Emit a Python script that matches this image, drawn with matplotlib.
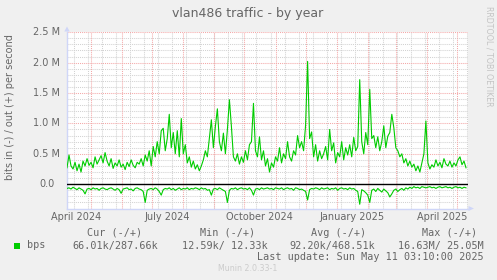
import matplotlib
matplotlib.use("Agg")
import matplotlib.pyplot as plt
import matplotlib.dates as mdates
import matplotlib.transforms as mtransforms
from matplotlib.patches import Polygon, Rectangle
import numpy as np
from datetime import datetime, timedelta

# ---------------- data (bits per second, in millions) ----------------
title = "vlan486 traffic - by year"
ylabel = "bits in (-) / out (+) per second"
series_name = "bps"

# "out" (+) values, one point every 2 days, starting at data_start
out_mbps = [
    0.27, 0.48, 0.30, 0.25, 0.36, 0.22, 0.33, 0.20, 0.38, 0.30,
    0.42, 0.31, 0.36, 0.27, 0.45, 0.33, 0.40, 0.47, 0.35, 0.52,
    0.38, 0.30, 0.42, 0.26, 0.35, 0.30, 0.40, 0.28, 0.33, 0.24,
    0.36, 0.29, 0.40, 0.31, 0.27, 0.36, 0.33, 0.42, 0.30, 0.48,
    0.38, 0.55, 0.30, 0.62, 0.45, 0.70, 0.50, 0.88, 0.92, 0.55,
    0.75, 1.15, 0.60, 0.85, 0.50, 0.88, 0.45, 1.08, 0.50, 0.65,
    0.35, 0.45, 0.28, 0.38, 0.25, 0.32, 0.22, 0.30, 0.40, 0.55,
    0.45, 0.75, 1.06, 0.60, 0.95, 1.24, 0.70, 0.55, 0.84, 0.50,
    0.90, 1.39, 0.95, 0.45, 0.38, 0.50, 0.33, 0.45, 0.36, 0.55,
    0.40, 0.65, 0.70, 1.33, 0.55, 0.45, 0.78, 0.40, 0.55, 0.30,
    0.42, 0.20, 0.35, 0.28, 0.45, 0.38, 0.60, 0.35, 0.50, 0.42,
    0.70, 0.45, 0.38, 0.55, 0.48, 0.80, 0.60, 0.70, 0.55, 0.97,
    2.02, 0.75, 0.86, 0.45, 0.65, 0.38, 0.55, 0.42, 0.50, 0.62,
    0.40, 0.90, 0.55, 0.68, 0.35, 0.52, 0.45, 0.70, 0.40, 0.60,
    0.48, 0.65, 0.45, 0.77, 0.55, 0.62, 1.72, 0.70, 0.50, 0.85,
    0.65, 1.56, 0.75, 0.80, 0.60, 0.78, 0.55, 0.70, 0.96, 0.60,
    0.79, 0.85, 1.15, 0.93, 0.60, 0.55, 0.45, 0.50, 0.35, 0.42,
    0.30, 0.38, 0.28, 0.33, 0.22, 0.30, 0.20, 0.35, 0.50, 1.04,
    0.35, 0.25, 0.32, 0.28, 0.40, 0.30, 0.36, 0.27, 0.42, 0.33,
    0.30, 0.38, 0.28, 0.35, 0.30, 0.40, 0.45, 0.32, 0.38, 0.27,
]
# "in" (-) magnitudes, same sampling
in_mbps = [
    0.07, 0.06, 0.08, 0.05, 0.07, 0.09, 0.06, 0.08, 0.10, 0.16,
    0.08, 0.07, 0.09, 0.06, 0.08, 0.07, 0.10, 0.07, 0.06, 0.08,
    0.09, 0.07, 0.06, 0.08, 0.10, 0.07, 0.09, 0.15, 0.08, 0.07,
    0.06, 0.09, 0.08, 0.11, 0.07, 0.06, 0.08, 0.09, 0.12, 0.30,
    0.10, 0.08, 0.07, 0.09, 0.06, 0.08, 0.12, 0.18, 0.09, 0.07,
    0.08, 0.06, 0.09, 0.07, 0.10, 0.08, 0.06, 0.09, 0.07, 0.08,
    0.06, 0.09, 0.07, 0.08, 0.06, 0.07, 0.09, 0.06, 0.08, 0.07,
    0.10, 0.09, 0.18, 0.08, 0.07, 0.09, 0.06, 0.08, 0.10, 0.12,
    0.30, 0.10, 0.07, 0.08, 0.06, 0.09, 0.07, 0.06, 0.08, 0.07,
    0.09, 0.06, 0.10, 0.18, 0.08, 0.07, 0.09, 0.06, 0.08, 0.07,
    0.06, 0.08, 0.07, 0.09, 0.06, 0.07, 0.08, 0.06, 0.09, 0.07,
    0.06, 0.08, 0.07, 0.10, 0.06, 0.07, 0.09, 0.08, 0.10, 0.12,
    0.26, 0.09, 0.07, 0.08, 0.06, 0.07, 0.09, 0.06, 0.08, 0.07,
    0.06, 0.09, 0.07, 0.08, 0.06, 0.10, 0.07, 0.06, 0.08, 0.07,
    0.09, 0.06, 0.08, 0.07, 0.10, 0.12, 0.33, 0.09, 0.11, 0.14,
    0.18, 0.30, 0.10, 0.08, 0.12, 0.07, 0.10, 0.13, 0.08, 0.11,
    0.14, 0.21, 0.16, 0.10, 0.08, 0.12, 0.09, 0.07, 0.10, 0.06,
    0.08, 0.05, 0.07, 0.04, 0.06, 0.05, 0.07, 0.04, 0.05, 0.06,
    0.05, 0.04, 0.06, 0.05, 0.07, 0.05, 0.04, 0.06, 0.05, 0.04,
    0.06, 0.05, 0.07, 0.05, 0.04, 0.06, 0.05, 0.07, 0.05, 0.06,
]
data_start = datetime(2024, 4, 7)
x_start = datetime(2024, 4, 7)
x_end = datetime(2025, 5, 12)

ytick_values = [0.0, 0.5, 1.0, 1.5, 2.0, 2.5]
ytick_labels = ["0.0", "0.5 M", "1.0 M", "1.5 M", "2.0 M", "2.5 M"]
y_min, y_max = -0.4, 2.5

xlabel_months = [datetime(2024, 4, 1), datetime(2024, 7, 1), datetime(2024, 10, 1),
                 datetime(2025, 1, 1), datetime(2025, 4, 1)]
xlabel_texts = ["April 2024", "July 2024", "October 2024", "January 2025", "April 2025"]

legend_headers = ["Cur (-/+)", "Min (-/+)", "Avg (-/+)", "Max (-/+)"]
legend_values = ["66.01k/287.66k", "12.59k/ 12.33k", "92.20k/468.51k", "16.63M/ 25.05M"]
last_update = "Last update: Sun May 11 03:10:00 2025"
munin_version = "Munin 2.0.33-1"
watermark = "RRDTOOL / TOBI OETIKER"

# ---------------- styling ----------------
W, H = 497, 280
BG = "#F0F0F0"
FONT_C = "#666666"
AXIS_C = "#CFD6F8"
GREEN = "#00CC00"
MAJ_C = "#F4A8A8"
MIN_C = "#D2D2D2"

fig = plt.figure(figsize=(W / 100, H / 100), dpi=100, facecolor=BG)

def px(x, y):
    return x / W, 1 - y / H

ax_l, ax_r, ax_t, ax_b = 67, 468, 32, 208.5
ax = fig.add_axes([ax_l / W, 1 - ax_b / H, (ax_r - ax_l) / W, (ax_b - ax_t) / H])
ax.set_facecolor("white")

xs = mdates.date2num(x_start)
xe = mdates.date2num(x_end)
ax.set_xlim(xs, xe)
ax.set_ylim(y_min, y_max + 0.004)

dot = (0, (1, 1))
# minor grid
yv = np.round(np.arange(-0.4, 2.51, 0.1), 2)
for v in yv:
    if abs((v * 10) % 5) > 1e-6 and abs(v) > 1e-9:
        ax.axhline(v, color=MIN_C, lw=0.75, ls=dot, zorder=1)
d = datetime(2024, 4, 14)
while d < x_end:
    ax.axvline(mdates.date2num(d), color=MIN_C, lw=0.75, ls=dot, zorder=1)
    d += timedelta(days=14)
# major grid
for v in ytick_values:
    ax.axhline(v, color=MAJ_C, lw=0.75, ls=dot, zorder=1.5)
for yr in (2024, 2025):
    for m in range(1, 13):
        dd = datetime(yr, m, 1)
        if x_start < dd < x_end:
            ax.axvline(mdates.date2num(dd), color=MAJ_C, lw=0.75, ls=dot, zorder=1.5)

# data
dates = [data_start + timedelta(days=2 * i) for i in range(len(out_mbps))]
dn = mdates.date2num(dates)
ax.plot(dn, out_mbps, color=GREEN, lw=0.8, zorder=3)
ax.plot(dn, -np.array(in_mbps), color=GREEN, lw=0.8, zorder=3)
ax.axhline(0, color="black", lw=1.0, zorder=4)

for s in ("top", "right"):
    ax.spines[s].set_visible(False)
for s in ("left", "bottom"):
    ax.spines[s].set_color(AXIS_C)
    ax.spines[s].set_linewidth(1.0)
ax.set_xticks([])
ax.set_yticks([])

# arrows
fig.patches.append(Polygon([px(64.3, 31.5), px(69.7, 31.5), px(67, 26.5)], closed=True,
                           transform=fig.transFigure, facecolor=AXIS_C, edgecolor="none"))
fig.patches.append(Polygon([px(468.5, 206), px(468.5, 211), px(474, 208.5)], closed=True,
                           transform=fig.transFigure, facecolor=AXIS_C, edgecolor="none"))

# y tick labels
ytr = mtransforms.blended_transform_factory(fig.transFigure, ax.transData)
for v, lab in zip(ytick_values, ytick_labels):
    xr = 60 if "M" in lab else 54.5
    fig.text(xr / W, 0, lab, transform=ytr, ha="right", va="center",
             fontsize=7, color=FONT_C).set_y(v)

# x labels centred mid-month
xtr = mtransforms.blended_transform_factory(ax.transData, fig.transFigure)
for m, lab in zip(xlabel_months, xlabel_texts):
    xc = mdates.date2num(m + timedelta(days=15))
    ax.text(xc, 1 - 216.5 / H, lab, transform=xtr, ha="center", va="center",
            fontsize=7, color=FONT_C, clip_on=False)

# title, labels
fig.text(*px(248, 13), title, ha="center", va="center", fontsize=9, color=FONT_C)
fig.text(*px(10, 107), ylabel, ha="center", va="center", rotation=90, fontsize=7, color=FONT_C)
fig.text(*px(488.5, 56), watermark, ha="center", va="center", rotation=270,
         fontsize=5.7, color="#C4C4C4")

# legend
mono = "DejaVu Sans Mono"
hdr_right = [142, 255, 366, 477]
val_right = [158, 267.5, 375.5, 483.5]
for t, xr in zip(legend_headers, hdr_right):
    fig.text(*px(xr, 232.5), t, ha="right", va="center", fontsize=7.3, family=mono, color=FONT_C)
for t, xr in zip(legend_values, val_right):
    fig.text(*px(xr, 245.5), t, ha="right", va="center", fontsize=7.3, family=mono, color=FONT_C)
fig.patches.append(Rectangle(px(14, 248.5), 6 / W, 6 / H, transform=fig.transFigure,
                             facecolor=GREEN, edgecolor="none"))
fig.text(*px(26.5, 245.5), series_name, ha="left", va="center", fontsize=7.3, family=mono, color=FONT_C)
fig.text(*px(483.5, 257.5), last_update, ha="right", va="center", fontsize=7.3, family=mono, color=FONT_C)
fig.text(*px(248, 268.5), munin_version, ha="center", va="center", fontsize=5.7, color="#CCCCCC")

fig.savefig("out.png", dpi=100, facecolor=BG)
